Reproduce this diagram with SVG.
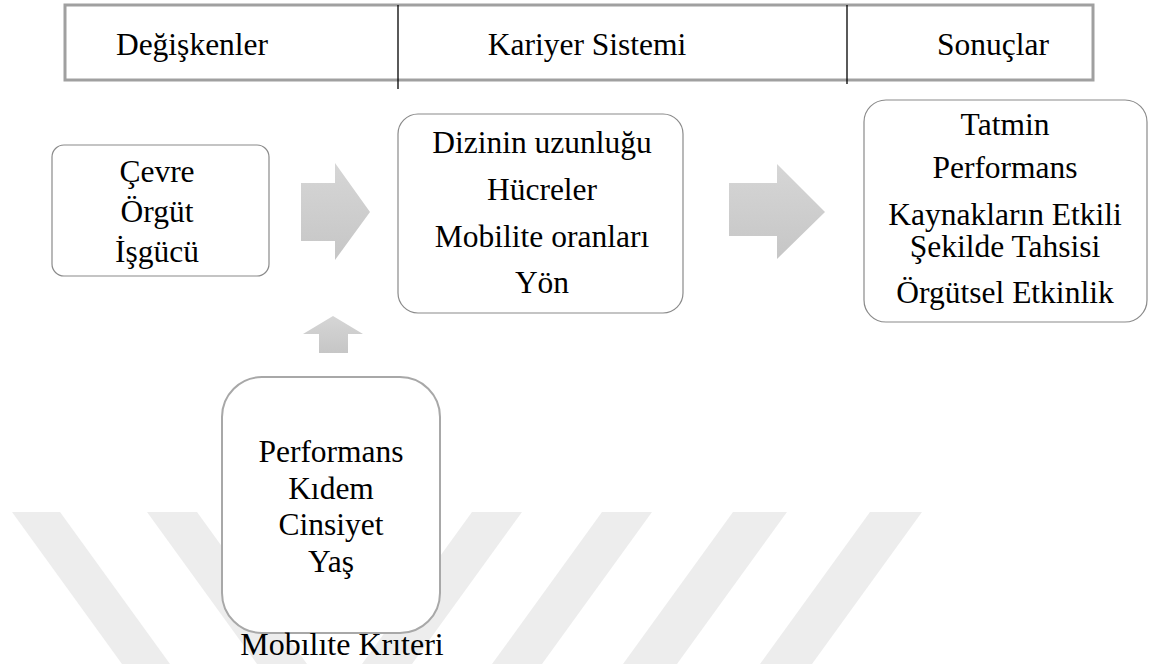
<svg xmlns="http://www.w3.org/2000/svg" width="1150" height="664" viewBox="0 0 1150 664">
  <style>
    .box { fill: #fff; stroke: #8a8a8a; stroke-width: 1.2; }
    .box4 { fill: #fff; stroke: #a8a8a8; stroke-width: 2; }
    .hdr { fill: #fff; stroke: #a0a0a0; stroke-width: 3; }
    .div { stroke: #000; stroke-width: 1.3; }
    .wm { fill: #ededed; }
    .arrow { fill: url(#arrowFill); }
  </style>
  <defs>
    <linearGradient id="arrowFill" x1="0" y1="0" x2="0" y2="1">
      <stop offset="0" stop-color="#d6d6d6"/>
      <stop offset="1" stop-color="#c6c6c6"/>
    </linearGradient>
  </defs>

  <rect width="1150" height="664" fill="#fff"/>

  <!-- background watermark bands -->
  <g id="watermark">
    <polygon class="wm" points="12,512 60,512 170,664 122,664"/>
    <polygon class="wm" points="147,512 197,512 307,664 257,664"/>
    <polygon class="wm" points="472,512 522,512 412,664 362,664"/>
    <polygon class="wm" points="602,512 652,512 542,664 492,664"/>
    <polygon class="wm" points="733,512 787,512 677,664 623,664"/>
    <polygon class="wm" points="870,512 922,512 812,664 760,664"/>
  </g>

  <!-- block arrows -->
  <g id="connectors">
    <polygon class="arrow" points="301,183 335,183 335,163 370,212 335,260 335,241 301,241"/>
    <polygon class="arrow" points="729,183 777,183 777,164 825,212 777,259 777,236 729,236"/>
    <polygon class="arrow" points="319,353 319,334 303,334 333,316 363,334 348,334 348,353"/>
  </g>

  <g font-family="Liberation Serif, Tinos, Times New Roman, Times, DejaVu Serif, serif" font-size="31.5" text-anchor="middle" fill="#000">
    <!-- header strip -->
    <g id="header">
      <rect class="hdr" x="65" y="5" width="1028" height="75"/>
      <line class="div" x1="398" y1="5" x2="398" y2="89"/>
      <line class="div" x1="847" y1="5" x2="847" y2="84"/>
      <text x="192" y="55">Değişkenler</text>
      <text x="587" y="55">Kariyer Sistemi</text>
      <text x="993" y="55">Sonuçlar</text>
    </g>

    <g id="degiskenler">
      <rect class="box" x="52" y="145" width="217" height="131" rx="12"/>
      <text x="157" y="182">Çevre</text>
      <text x="157" y="222">Örgüt</text>
      <text x="157" y="262">İşgücü</text>
    </g>

    <g id="kariyer-sistemi">
      <rect class="box" x="398" y="114" width="285" height="199" rx="20"/>
      <text x="542" y="153">Dizinin uzunluğu</text>
      <text x="542" y="200">Hücreler</text>
      <text x="542" y="247">Mobilite oranları</text>
      <text x="542" y="293">Yön</text>
    </g>

    <g id="sonuclar">
      <rect class="box" x="864" y="100" width="283" height="222" rx="22"/>
      <text x="1005" y="135">Tatmin</text>
      <text x="1005" y="178">Performans</text>
      <text x="1005" y="225">Kaynakların Etkili</text>
      <text x="1005" y="257">Şekilde Tahsisi</text>
      <text x="1005" y="303">Örgütsel Etkinlik</text>
    </g>

    <g id="mobilite-kriteri">
      <rect class="box4" x="222" y="377" width="218" height="256" rx="40"/>
      <text x="331" y="462">Performans</text>
      <text x="331" y="499">Kıdem</text>
      <text x="331" y="535">Cinsiyet</text>
      <text x="331" y="572">Yaş</text>
      <text x="342" y="655" font-size="32">Mobılıte Krıteri</text>
    </g>
  </g>
</svg>
